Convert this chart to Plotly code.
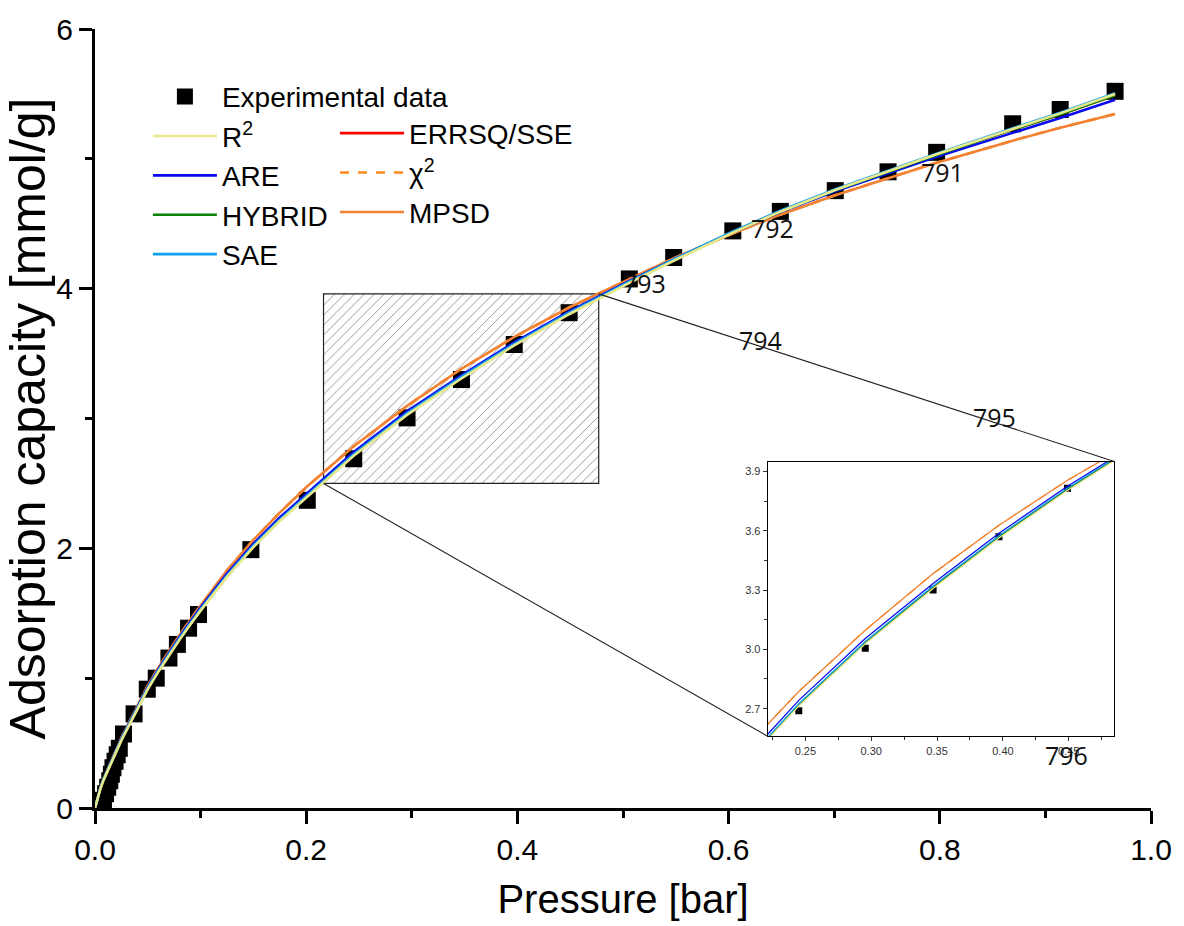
import plotly.graph_objects as go

# Measured isotherm (pressure in bar, uptake in mmol/g)
P_EXP = [0.008, 0.010, 0.012, 0.014, 0.0155, 0.017, 0.019, 0.021, 0.023, 0.027,
         0.037, 0.0495, 0.058, 0.070, 0.078, 0.0886, 0.098, 0.1476, 0.201, 0.245,
         0.2955, 0.347, 0.397, 0.449, 0.506, 0.548, 0.604, 0.649, 0.701, 0.751,
         0.797, 0.869, 0.914, 0.966]
Q_EXP = [0.06, 0.11, 0.16, 0.21, 0.26, 0.31, 0.36, 0.41, 0.46, 0.57,
         0.725, 0.915, 1.00, 1.155, 1.26, 1.385, 1.49, 1.99, 2.37, 2.69,
         3.005, 3.30, 3.57, 3.815, 4.075, 4.24, 4.445, 4.595, 4.755, 4.90,
         5.05, 5.27, 5.38, 5.52]

# Fitted isotherms for each error function, evaluated on a common pressure grid
P_FIT = [0, 0.002, 0.005, 0.008, 0.012, 0.016, 0.020, 0.025, 0.030, 0.040,
         0.050, 0.060, 0.070, 0.080, 0.090, 0.100, 0.125, 0.150, 0.175, 0.200,
         0.245, 0.2955, 0.347, 0.397, 0.449, 0.506, 0.548, 0.604, 0.649, 0.701,
         0.751, 0.797, 0.869, 0.914, 0.966]
Q_R2 = [0, 0.065, 0.145, 0.213, 0.288, 0.362, 0.432, 0.521, 0.600, 0.760,
        0.915, 1.050, 1.175, 1.295, 1.410, 1.520, 1.780, 2.010, 2.210, 2.390,
        2.713, 3.028, 3.308, 3.563, 3.803, 4.045, 4.215, 4.432, 4.593, 4.760,
        4.905, 5.035, 5.230, 5.350, 5.500]
Q_ARE = [0, 0.070, 0.150, 0.220, 0.296, 0.372, 0.443, 0.534, 0.615, 0.777,
         0.933, 1.070, 1.196, 1.317, 1.433, 1.544, 1.805, 2.035, 2.237, 2.415,
         2.742, 3.055, 3.333, 3.587, 3.825, 4.060, 4.225, 4.435, 4.590, 4.750,
         4.890, 5.015, 5.200, 5.315, 5.455]
Q_HYBRID = [0, 0.068, 0.148, 0.217, 0.292, 0.366, 0.436, 0.526, 0.605, 0.765,
            0.920, 1.055, 1.180, 1.300, 1.415, 1.525, 1.785, 2.015, 2.215, 2.395,
            2.720, 3.035, 3.315, 3.570, 3.810, 4.050, 4.220, 4.435, 4.594, 4.758,
            4.902, 5.030, 5.225, 5.342, 5.490]
Q_SAE = [0, 0.070, 0.150, 0.220, 0.295, 0.370, 0.440, 0.530, 0.610, 0.770,
         0.925, 1.060, 1.185, 1.305, 1.420, 1.530, 1.790, 2.020, 2.220, 2.400,
         2.725, 3.040, 3.320, 3.575, 3.815, 4.055, 4.225, 4.440, 4.600, 4.765,
         4.910, 5.040, 5.235, 5.355, 5.505]
Q_ERRSQ = [0, 0.068, 0.148, 0.217, 0.292, 0.366, 0.436, 0.526, 0.605, 0.765,
           0.920, 1.055, 1.180, 1.300, 1.415, 1.525, 1.785, 2.015, 2.215, 2.395,
           2.720, 3.035, 3.315, 3.570, 3.810, 4.050, 4.220, 4.435, 4.594, 4.758,
           4.902, 5.030, 5.225, 5.342, 5.490]
Q_CHI2 = [0, 0.070, 0.150, 0.222, 0.298, 0.375, 0.448, 0.540, 0.622, 0.785,
          0.942, 1.080, 1.207, 1.330, 1.447, 1.560, 1.830, 2.065, 2.275, 2.470,
          2.787, 3.097, 3.383, 3.628, 3.855, 4.075, 4.235, 4.425, 4.570, 4.720,
          4.850, 4.970, 5.140, 5.240, 5.345]
Q_MPSD = [0, 0.070, 0.150, 0.222, 0.298, 0.375, 0.448, 0.540, 0.622, 0.785,
          0.942, 1.080, 1.207, 1.330, 1.447, 1.560, 1.830, 2.065, 2.275, 2.470,
          2.787, 3.097, 3.383, 3.628, 3.855, 4.075, 4.235, 4.425, 4.570, 4.720,
          4.850, 4.970, 5.140, 5.240, 5.345]

X_TICKS = [0.0, 0.2, 0.4, 0.6, 0.8, 1.0]
Y_TICKS = [0, 2, 4, 6]
INSET_X_TICKS = [0.25, 0.30, 0.35, 0.40, 0.45]
INSET_Y_TICKS = [2.7, 3.0, 3.3, 3.6, 3.9]

# Highlighted region on the main axes and the range shown in the magnified view
ZOOM_P = [0.2164, 0.477]
ZOOM_Q = [2.50, 3.96]
INSET_P = [0.2214, 0.4846]
INSET_Q = [2.56, 3.95]

# Text labels placed on the main axes
LABELS = [("791", 0.8027, 4.90), ("792", 0.6415, 4.47), ("793", 0.5200, 4.04),
          ("794", 0.6298, 3.606), ("795", 0.8515, 3.012), ("796", 0.9199, 0.407)]

FONT = "Liberation Sans, Arial, sans-serif"

# (name, values, colour, dash, legend, rank) in drawing order
FITS = [
    ("ERRSQ/SSE", Q_ERRSQ, "#FF0000", "solid", "legend2", 1),
    ("χ<sup>2</sup>", Q_CHI2, "#FF8A1C", "dash", "legend2", 2),
    ("MPSD", Q_MPSD, "#F28232", "solid", "legend2", 3),
    ("ARE", Q_ARE, "#0A0AF0", "solid", "legend", 3),
    ("HYBRID", Q_HYBRID, "#078207", "solid", "legend", 4),
    ("SAE", Q_SAE, "#12A0EC", "solid", "legend", 5),
    ("R<sup>2</sup>", Q_R2, "#E8E88C", "solid", "legend", 2),
]

fig = go.Figure()

# hatched box marking the magnified region
fig.add_trace(go.Scatter(
    x=[ZOOM_P[0], ZOOM_P[1], ZOOM_P[1], ZOOM_P[0], ZOOM_P[0]],
    y=[ZOOM_Q[0], ZOOM_Q[0], ZOOM_Q[1], ZOOM_Q[1], ZOOM_Q[0]],
    mode="lines", fill="toself", fillcolor="white",
    fillpattern=dict(shape="/", fgcolor="#9a9a9a", bgcolor="white",
                     size=7, solidity=0.14, fillmode="replace"),
    line=dict(color="#222222", width=1.2),
    hoverinfo="skip", showlegend=False,
))

# experimental points on main axes
fig.add_trace(go.Scatter(
    x=P_EXP, y=Q_EXP, mode="markers", name="Experimental data",
    marker=dict(symbol="square", size=17, color="black"),
    legend="legend", legendrank=1,
))

for name, q, color, dash, leg, rank in FITS:
    fig.add_trace(go.Scatter(
        x=P_FIT, y=q, mode="lines", name=name,
        line=dict(color=color, width=2.6, dash=dash),
        legend=leg, legendrank=rank,
    ))

# magnified view
fig.add_trace(go.Scatter(
    x=P_EXP, y=Q_EXP, mode="markers", xaxis="x2", yaxis="y2",
    marker=dict(symbol="square", size=7, color="black"),
    showlegend=False,
))
for name, q, color, dash, leg, rank in FITS:
    fig.add_trace(go.Scatter(
        x=P_FIT, y=q, mode="lines", xaxis="x2", yaxis="y2",
        line=dict(color=color, width=1.3, dash=dash),
        showlegend=False,
    ))

X_DOM2 = [0.637, 0.9653]
Y_DOM2 = [0.092, 0.4448]

# connector lines between the highlighted box and the magnified view (paper units)
y_top = 6.0
fig.add_shape(type="line", xref="paper", yref="paper",
              x0=ZOOM_P[0], y0=ZOOM_Q[0] / y_top, x1=X_DOM2[0], y1=Y_DOM2[0],
              line=dict(color="#222222", width=1.1))
fig.add_shape(type="line", xref="paper", yref="paper",
              x0=ZOOM_P[1], y0=ZOOM_Q[1] / y_top, x1=X_DOM2[1], y1=Y_DOM2[1],
              line=dict(color="#222222", width=1.1))

for txt, px, qy in LABELS:
    fig.add_annotation(x=px, y=qy, xref="x", yref="y", text=txt, showarrow=False,
                       font=dict(family="Open Sans, Noto Sans, sans-serif", size=25,
                                 color="#111111"))

legend_style = dict(
    xanchor="left", yanchor="top",
    bgcolor="rgba(0,0,0,0)", borderwidth=0,
    font=dict(size=28, family=FONT, color="black"),
    traceorder="normal", itemwidth=64,
)

fig.update_layout(
    width=1184, height=926, autosize=False,
    margin=dict(l=95, r=22, t=25, b=113),
    paper_bgcolor="white", plot_bgcolor="white",
    font=dict(family=FONT, color="black"),
    xaxis=dict(
        range=[0, 1], tickvals=X_TICKS, tickformat=".1f",
        showline=True, linecolor="black", linewidth=3,
        ticks="outside", ticklen=13, tickwidth=3, tickcolor="black",
        minor=dict(ticks="outside", dtick=0.1, ticklen=7, tickwidth=2.5, tickcolor="black"),
        showgrid=False, zeroline=False,
        tickfont=dict(size=30, family=FONT),
        title=dict(text="Pressure [bar]", font=dict(size=40, family=FONT), standoff=20),
    ),
    yaxis=dict(
        range=[0, 6], tickvals=Y_TICKS,
        showline=True, linecolor="black", linewidth=3,
        ticks="outside", ticklen=13, tickwidth=3, tickcolor="black",
        minor=dict(ticks="outside", dtick=1, ticklen=7, tickwidth=2.5, tickcolor="black"),
        showgrid=False, zeroline=False,
        tickfont=dict(size=30, family=FONT),
        title=dict(text="Adsorption capacity [mmol/g]", font=dict(size=50, family=FONT),
                   standoff=6),
    ),
    xaxis2=dict(
        domain=X_DOM2, anchor="y2", range=INSET_P,
        tickvals=INSET_X_TICKS, tickformat=".2f",
        showline=True, mirror=True, linecolor="black", linewidth=1,
        ticks="outside", ticklen=4, tickwidth=1, tickcolor="#333333",
        minor=dict(ticks="outside", dtick=0.025, tick0=0.25, ticklen=2.5, tickcolor="#333333"),
        showgrid=False, zeroline=False,
        tickfont=dict(size=11, color="#333333", family=FONT),
    ),
    yaxis2=dict(
        domain=Y_DOM2, anchor="x2", range=INSET_Q,
        tickvals=INSET_Y_TICKS, tickformat=".1f",
        showline=True, mirror=True, linecolor="black", linewidth=1,
        ticks="outside", ticklen=4, tickwidth=1, tickcolor="#333333",
        minor=dict(ticks="outside", dtick=0.15, tick0=2.7, ticklen=2.5, tickcolor="#333333"),
        showgrid=False, zeroline=False,
        tickfont=dict(size=11, color="#333333", family=FONT),
    ),
    legend=dict(x=0.0501, y=0.945, **legend_style),
    legend2=dict(x=0.2273, y=0.898, **legend_style),
)

fig.write_html("out.html")
